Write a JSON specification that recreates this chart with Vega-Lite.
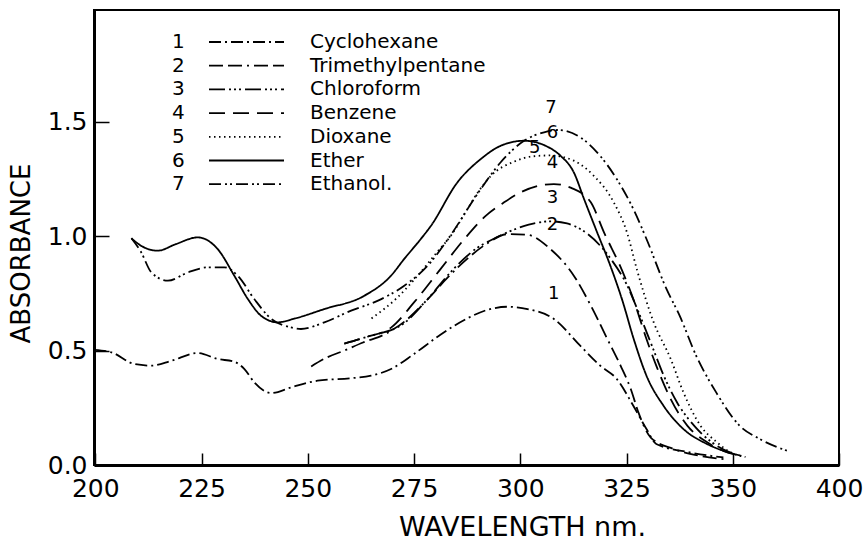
{
  "$schema": "https://vega.github.io/schema/vega-lite/v6.json",
  "autosize": {"type": "none"},
  "width": 745,
  "height": 455,
  "padding": {"left": 94, "top": 10, "right": 24, "bottom": 78},
  "background": "white",
  "config": {
    "font": "DejaVu Sans",
    "view": {"stroke": "black", "strokeWidth": 2},
    "axis": {"labelFont": "DejaVu Sans", "titleFont": "DejaVu Sans", "labelColor": "black", "titleColor": "black", "domainColor": "black", "tickColor": "black", "grid": false, "titleFontWeight": "normal"}
  },
  "datasets": {
    "curves": [
      {"s": "Cyclohexane", "n": "1", "x": 199.8, "y": 0.503},
      {"s": "Cyclohexane", "n": "1", "x": 203.8, "y": 0.492},
      {"s": "Cyclohexane", "n": "1", "x": 209.2, "y": 0.441},
      {"s": "Cyclohexane", "n": "1", "x": 213.2, "y": 0.434},
      {"s": "Cyclohexane", "n": "1", "x": 217.9, "y": 0.455},
      {"s": "Cyclohexane", "n": "1", "x": 224.1, "y": 0.489},
      {"s": "Cyclohexane", "n": "1", "x": 228.8, "y": 0.463},
      {"s": "Cyclohexane", "n": "1", "x": 232.7, "y": 0.451},
      {"s": "Cyclohexane", "n": "1", "x": 235.1, "y": 0.419},
      {"s": "Cyclohexane", "n": "1", "x": 237.4, "y": 0.361},
      {"s": "Cyclohexane", "n": "1", "x": 241.4, "y": 0.314},
      {"s": "Cyclohexane", "n": "1", "x": 246.1, "y": 0.339},
      {"s": "Cyclohexane", "n": "1", "x": 252.3, "y": 0.368},
      {"s": "Cyclohexane", "n": "1", "x": 260.2, "y": 0.379},
      {"s": "Cyclohexane", "n": "1", "x": 264.9, "y": 0.39},
      {"s": "Cyclohexane", "n": "1", "x": 269.6, "y": 0.419},
      {"s": "Cyclohexane", "n": "1", "x": 275.0, "y": 0.485},
      {"s": "Cyclohexane", "n": "1", "x": 281.3, "y": 0.57},
      {"s": "Cyclohexane", "n": "1", "x": 287.5, "y": 0.64},
      {"s": "Cyclohexane", "n": "1", "x": 292.0, "y": 0.676},
      {"s": "Cyclohexane", "n": "1", "x": 297.0, "y": 0.691},
      {"s": "Cyclohexane", "n": "1", "x": 301.7, "y": 0.681},
      {"s": "Cyclohexane", "n": "1", "x": 307.9, "y": 0.638},
      {"s": "Cyclohexane", "n": "1", "x": 314.1, "y": 0.521},
      {"s": "Cyclohexane", "n": "1", "x": 318.8, "y": 0.434},
      {"s": "Cyclohexane", "n": "1", "x": 322.7, "y": 0.376},
      {"s": "Cyclohexane", "n": "1", "x": 326.6, "y": 0.259},
      {"s": "Cyclohexane", "n": "1", "x": 329.7, "y": 0.157},
      {"s": "Cyclohexane", "n": "1", "x": 332.0, "y": 0.092},
      {"s": "Cyclohexane", "n": "1", "x": 339.9, "y": 0.055},
      {"s": "Cyclohexane", "n": "1", "x": 347.8, "y": 0.033},
      {"s": "Trimethylpentane", "n": "2", "x": 250.8, "y": 0.43},
      {"s": "Trimethylpentane", "n": "2", "x": 254.0, "y": 0.465},
      {"s": "Trimethylpentane", "n": "2", "x": 258.6, "y": 0.5},
      {"s": "Trimethylpentane", "n": "2", "x": 263.0, "y": 0.535},
      {"s": "Trimethylpentane", "n": "2", "x": 268.0, "y": 0.57},
      {"s": "Trimethylpentane", "n": "2", "x": 273.0, "y": 0.63},
      {"s": "Trimethylpentane", "n": "2", "x": 278.0, "y": 0.72},
      {"s": "Trimethylpentane", "n": "2", "x": 283.0, "y": 0.82},
      {"s": "Trimethylpentane", "n": "2", "x": 287.5, "y": 0.9},
      {"s": "Trimethylpentane", "n": "2", "x": 292.0, "y": 0.965},
      {"s": "Trimethylpentane", "n": "2", "x": 297.0, "y": 1.008},
      {"s": "Trimethylpentane", "n": "2", "x": 301.7, "y": 1.005},
      {"s": "Trimethylpentane", "n": "2", "x": 307.1, "y": 0.943},
      {"s": "Trimethylpentane", "n": "2", "x": 312.6, "y": 0.827},
      {"s": "Trimethylpentane", "n": "2", "x": 316.6, "y": 0.696},
      {"s": "Trimethylpentane", "n": "2", "x": 320.5, "y": 0.55},
      {"s": "Trimethylpentane", "n": "2", "x": 323.6, "y": 0.434},
      {"s": "Trimethylpentane", "n": "2", "x": 326.0, "y": 0.332},
      {"s": "Trimethylpentane", "n": "2", "x": 327.8, "y": 0.23},
      {"s": "Trimethylpentane", "n": "2", "x": 330.7, "y": 0.12},
      {"s": "Trimethylpentane", "n": "2", "x": 336.1, "y": 0.07},
      {"s": "Trimethylpentane", "n": "2", "x": 342.4, "y": 0.04},
      {"s": "Trimethylpentane", "n": "2", "x": 348.0, "y": 0.025},
      {"s": "Chloroform", "n": "3", "x": 258.6, "y": 0.53},
      {"s": "Chloroform", "n": "3", "x": 264.0, "y": 0.56},
      {"s": "Chloroform", "n": "3", "x": 272.7, "y": 0.62},
      {"s": "Chloroform", "n": "3", "x": 278.0, "y": 0.72},
      {"s": "Chloroform", "n": "3", "x": 284.0, "y": 0.85},
      {"s": "Chloroform", "n": "3", "x": 290.0, "y": 0.95},
      {"s": "Chloroform", "n": "3", "x": 294.0, "y": 0.99},
      {"s": "Chloroform", "n": "3", "x": 297.0, "y": 1.016},
      {"s": "Chloroform", "n": "3", "x": 302.0, "y": 1.05},
      {"s": "Chloroform", "n": "3", "x": 307.1, "y": 1.064},
      {"s": "Chloroform", "n": "3", "x": 311.0, "y": 1.055},
      {"s": "Chloroform", "n": "3", "x": 314.1, "y": 1.031},
      {"s": "Chloroform", "n": "3", "x": 318.8, "y": 0.958},
      {"s": "Chloroform", "n": "3", "x": 321.3, "y": 0.9},
      {"s": "Chloroform", "n": "3", "x": 325.0, "y": 0.79},
      {"s": "Chloroform", "n": "3", "x": 328.0, "y": 0.66},
      {"s": "Chloroform", "n": "3", "x": 331.0, "y": 0.52},
      {"s": "Chloroform", "n": "3", "x": 334.0, "y": 0.38},
      {"s": "Chloroform", "n": "3", "x": 337.0, "y": 0.27},
      {"s": "Chloroform", "n": "3", "x": 341.0, "y": 0.17},
      {"s": "Chloroform", "n": "3", "x": 345.0, "y": 0.1},
      {"s": "Chloroform", "n": "3", "x": 350.0, "y": 0.05},
      {"s": "Benzene", "n": "4", "x": 258.6, "y": 0.53},
      {"s": "Benzene", "n": "4", "x": 264.0, "y": 0.56},
      {"s": "Benzene", "n": "4", "x": 269.6, "y": 0.6},
      {"s": "Benzene", "n": "4", "x": 275.0, "y": 0.71},
      {"s": "Benzene", "n": "4", "x": 281.0, "y": 0.85},
      {"s": "Benzene", "n": "4", "x": 287.0, "y": 0.99},
      {"s": "Benzene", "n": "4", "x": 292.0, "y": 1.09},
      {"s": "Benzene", "n": "4", "x": 296.2, "y": 1.147},
      {"s": "Benzene", "n": "4", "x": 300.0, "y": 1.19},
      {"s": "Benzene", "n": "4", "x": 304.0, "y": 1.218},
      {"s": "Benzene", "n": "4", "x": 307.9, "y": 1.227},
      {"s": "Benzene", "n": "4", "x": 312.0, "y": 1.21},
      {"s": "Benzene", "n": "4", "x": 316.6, "y": 1.147},
      {"s": "Benzene", "n": "4", "x": 319.7, "y": 1.016},
      {"s": "Benzene", "n": "4", "x": 324.0, "y": 0.848},
      {"s": "Benzene", "n": "4", "x": 326.6, "y": 0.725},
      {"s": "Benzene", "n": "4", "x": 329.7, "y": 0.55},
      {"s": "Benzene", "n": "4", "x": 332.0, "y": 0.434},
      {"s": "Benzene", "n": "4", "x": 335.4, "y": 0.288},
      {"s": "Benzene", "n": "4", "x": 339.3, "y": 0.172},
      {"s": "Benzene", "n": "4", "x": 344.0, "y": 0.099},
      {"s": "Benzene", "n": "4", "x": 347.8, "y": 0.062},
      {"s": "Benzene", "n": "4", "x": 352.0, "y": 0.04},
      {"s": "Dioxane", "n": "5", "x": 265.0, "y": 0.64},
      {"s": "Dioxane", "n": "5", "x": 271.0, "y": 0.73},
      {"s": "Dioxane", "n": "5", "x": 276.0, "y": 0.83},
      {"s": "Dioxane", "n": "5", "x": 280.0, "y": 0.92},
      {"s": "Dioxane", "n": "5", "x": 284.0, "y": 1.01},
      {"s": "Dioxane", "n": "5", "x": 287.0, "y": 1.1},
      {"s": "Dioxane", "n": "5", "x": 290.0, "y": 1.19},
      {"s": "Dioxane", "n": "5", "x": 293.1, "y": 1.263},
      {"s": "Dioxane", "n": "5", "x": 298.6, "y": 1.325},
      {"s": "Dioxane", "n": "5", "x": 303.0, "y": 1.348},
      {"s": "Dioxane", "n": "5", "x": 307.0, "y": 1.352},
      {"s": "Dioxane", "n": "5", "x": 312.6, "y": 1.329},
      {"s": "Dioxane", "n": "5", "x": 317.3, "y": 1.263},
      {"s": "Dioxane", "n": "5", "x": 322.0, "y": 1.147},
      {"s": "Dioxane", "n": "5", "x": 325.1, "y": 1.016},
      {"s": "Dioxane", "n": "5", "x": 327.5, "y": 0.85},
      {"s": "Dioxane", "n": "5", "x": 331.4, "y": 0.623},
      {"s": "Dioxane", "n": "5", "x": 335.4, "y": 0.463},
      {"s": "Dioxane", "n": "5", "x": 338.4, "y": 0.317},
      {"s": "Dioxane", "n": "5", "x": 342.4, "y": 0.172},
      {"s": "Dioxane", "n": "5", "x": 346.3, "y": 0.099},
      {"s": "Dioxane", "n": "5", "x": 349.5, "y": 0.055},
      {"s": "Dioxane", "n": "5", "x": 353.0, "y": 0.035},
      {"s": "Ether", "n": "6", "x": 208.5, "y": 0.99},
      {"s": "Ether", "n": "6", "x": 211.0, "y": 0.955},
      {"s": "Ether", "n": "6", "x": 214.7, "y": 0.936},
      {"s": "Ether", "n": "6", "x": 219.0, "y": 0.965},
      {"s": "Ether", "n": "6", "x": 224.1, "y": 0.994},
      {"s": "Ether", "n": "6", "x": 228.8, "y": 0.943},
      {"s": "Ether", "n": "6", "x": 232.7, "y": 0.827},
      {"s": "Ether", "n": "6", "x": 235.9, "y": 0.725},
      {"s": "Ether", "n": "6", "x": 239.0, "y": 0.652},
      {"s": "Ether", "n": "6", "x": 242.9, "y": 0.623},
      {"s": "Ether", "n": "6", "x": 247.0, "y": 0.64},
      {"s": "Ether", "n": "6", "x": 253.9, "y": 0.681},
      {"s": "Ether", "n": "6", "x": 263.3, "y": 0.739},
      {"s": "Ether", "n": "6", "x": 269.6, "y": 0.827},
      {"s": "Ether", "n": "6", "x": 272.7, "y": 0.9},
      {"s": "Ether", "n": "6", "x": 276.6, "y": 0.987},
      {"s": "Ether", "n": "6", "x": 279.0, "y": 1.045},
      {"s": "Ether", "n": "6", "x": 285.2, "y": 1.234},
      {"s": "Ether", "n": "6", "x": 290.7, "y": 1.336},
      {"s": "Ether", "n": "6", "x": 295.4, "y": 1.394},
      {"s": "Ether", "n": "6", "x": 300.9, "y": 1.416},
      {"s": "Ether", "n": "6", "x": 306.4, "y": 1.39},
      {"s": "Ether", "n": "6", "x": 309.5, "y": 1.35},
      {"s": "Ether", "n": "6", "x": 312.6, "y": 1.278},
      {"s": "Ether", "n": "6", "x": 315.0, "y": 1.162},
      {"s": "Ether", "n": "6", "x": 318.0, "y": 1.02},
      {"s": "Ether", "n": "6", "x": 321.0, "y": 0.88},
      {"s": "Ether", "n": "6", "x": 324.0, "y": 0.72},
      {"s": "Ether", "n": "6", "x": 326.7, "y": 0.55},
      {"s": "Ether", "n": "6", "x": 329.7, "y": 0.39},
      {"s": "Ether", "n": "6", "x": 333.7, "y": 0.259},
      {"s": "Ether", "n": "6", "x": 338.4, "y": 0.157},
      {"s": "Ether", "n": "6", "x": 343.9, "y": 0.092},
      {"s": "Ether", "n": "6", "x": 347.8, "y": 0.062},
      {"s": "Ether", "n": "6", "x": 352.0, "y": 0.04},
      {"s": "Ethanol.", "n": "7", "x": 208.5, "y": 0.99},
      {"s": "Ethanol.", "n": "7", "x": 210.8, "y": 0.929},
      {"s": "Ethanol.", "n": "7", "x": 213.2, "y": 0.841},
      {"s": "Ethanol.", "n": "7", "x": 217.1, "y": 0.805},
      {"s": "Ethanol.", "n": "7", "x": 221.8, "y": 0.841},
      {"s": "Ethanol.", "n": "7", "x": 226.5, "y": 0.863},
      {"s": "Ethanol.", "n": "7", "x": 230.4, "y": 0.863},
      {"s": "Ethanol.", "n": "7", "x": 233.5, "y": 0.827},
      {"s": "Ethanol.", "n": "7", "x": 237.4, "y": 0.725},
      {"s": "Ethanol.", "n": "7", "x": 241.4, "y": 0.638},
      {"s": "Ethanol.", "n": "7", "x": 246.1, "y": 0.601},
      {"s": "Ethanol.", "n": "7", "x": 248.4, "y": 0.594},
      {"s": "Ethanol.", "n": "7", "x": 253.9, "y": 0.623},
      {"s": "Ethanol.", "n": "7", "x": 260.2, "y": 0.674},
      {"s": "Ethanol.", "n": "7", "x": 266.4, "y": 0.717},
      {"s": "Ethanol.", "n": "7", "x": 272.7, "y": 0.783},
      {"s": "Ethanol.", "n": "7", "x": 278.2, "y": 0.87},
      {"s": "Ethanol.", "n": "7", "x": 283.0, "y": 0.987},
      {"s": "Ethanol.", "n": "7", "x": 290.7, "y": 1.205},
      {"s": "Ethanol.", "n": "7", "x": 295.4, "y": 1.322},
      {"s": "Ethanol.", "n": "7", "x": 300.9, "y": 1.416},
      {"s": "Ethanol.", "n": "7", "x": 305.6, "y": 1.453},
      {"s": "Ethanol.", "n": "7", "x": 308.7, "y": 1.463},
      {"s": "Ethanol.", "n": "7", "x": 314.1, "y": 1.431},
      {"s": "Ethanol.", "n": "7", "x": 318.8, "y": 1.35},
      {"s": "Ethanol.", "n": "7", "x": 322.7, "y": 1.249},
      {"s": "Ethanol.", "n": "7", "x": 326.6, "y": 1.118},
      {"s": "Ethanol.", "n": "7", "x": 329.7, "y": 0.987},
      {"s": "Ethanol.", "n": "7", "x": 334.4, "y": 0.769},
      {"s": "Ethanol.", "n": "7", "x": 337.5, "y": 0.652},
      {"s": "Ethanol.", "n": "7", "x": 341.4, "y": 0.477},
      {"s": "Ethanol.", "n": "7", "x": 346.1, "y": 0.317},
      {"s": "Ethanol.", "n": "7", "x": 351.6, "y": 0.172},
      {"s": "Ethanol.", "n": "7", "x": 356.3, "y": 0.114},
      {"s": "Ethanol.", "n": "7", "x": 362.8, "y": 0.062}
    ],
    "marks": [
      {"n": "1", "x": 307.9, "y": 0.7},
      {"n": "2", "x": 307.6, "y": 1.0},
      {"n": "3", "x": 307.6, "y": 1.118},
      {"n": "4", "x": 307.6, "y": 1.27},
      {"n": "5", "x": 303.4, "y": 1.336},
      {"n": "6", "x": 307.6, "y": 1.4},
      {"n": "7", "x": 307.2, "y": 1.51}
    ]
  },
  "layer": [
    {
      "data": {"name": "curves"},
      "mark": {"type": "line", "color": "black", "strokeWidth": 1.8, "interpolate": "monotone"},
      "encoding": {
        "x": {
          "field": "x", "type": "quantitative",
          "scale": {"domain": [199.7, 375], "nice": false, "zero": false},
          "axis": {
            "title": "WAVELENGTH nm.", "values": [200, 225, 250, 275, 300, 325, 350, 375],
            "labelExpr": "datum.value == 375 ? '400' : datum.label",
            "tickSize": -12, "tickWidth": 1.5, "domainWidth": 3, "labelFontSize": 25, "labelPadding": 23,
            "titleFontSize": 27, "titleX": 428, "titleY": 62, "titleBaseline": "middle", "titleAlign": "center", "labelFlush": false
          }
        },
        "y": {
          "field": "y", "type": "quantitative",
          "scale": {"domain": [0, 1.987], "nice": false},
          "axis": {
            "title": "ABSORBANCE", "values": [0, 0.5, 1, 1.5], "format": ".1f",
            "tickSize": -15, "tickWidth": 1.5, "domainWidth": 3, "labelFontSize": 25, "labelPadding": 22,
            "titleFontSize": 26, "titleX": -73, "titleY": 243, "titleBaseline": "middle", "titleAlign": "center", "labelFlush": false
          }
        },
        "strokeDash": {
          "field": "s", "type": "nominal",
          "scale": {
            "domain": ["Cyclohexane", "Trimethylpentane", "Chloroform", "Benzene", "Dioxane", "Ether", "Ethanol."],
            "range": [[12, 4, 2, 4], [14, 5, 14, 5, 2, 5], [16, 4, 2, 3, 2, 3, 2, 4], [16, 8], [1.5, 3.5], [1, 0], [12, 4, 2, 3, 2, 4]]
          },
          "legend": {
            "orient": "none", "legendX": 114, "legendY": 22, "title": null, "padding": 0,
            "symbolType": "stroke", "symbolSize": 5625, "symbolStrokeWidth": 1.8, "symbolStrokeColor": "black",
            "clipHeight": 20, "rowPadding": 3.7, "labelOffset": 25, "labelFontSize": 20, "labelFont": "DejaVu Sans", "labelColor": "black", "labelLimit": 400
          }
        },
        "opacity": {
          "field": "n", "type": "ordinal",
          "scale": {"domain": ["1", "2", "3", "4", "5", "6", "7"], "range": [1, 1, 1, 1, 1, 1, 1]},
          "legend": {
            "orient": "none", "legendX": 58, "legendY": 22, "title": null, "padding": 0,
            "symbolType": "circle", "symbolSize": 1, "symbolOpacity": 0, "symbolStrokeWidth": 0,
            "clipHeight": 20, "rowPadding": 3.7, "labelOffset": 0, "labelFontSize": 20, "labelFont": "DejaVu Sans", "labelColor": "black"
          }
        }
      }
    },
    {
      "data": {"name": "marks"},
      "mark": {"type": "text", "fontSize": 18, "font": "DejaVu Sans", "color": "black", "baseline": "bottom", "dy": -2},
      "encoding": {
        "x": {"field": "x", "type": "quantitative"},
        "y": {"field": "y", "type": "quantitative"},
        "text": {"field": "n"}
      }
    }
  ]
}
